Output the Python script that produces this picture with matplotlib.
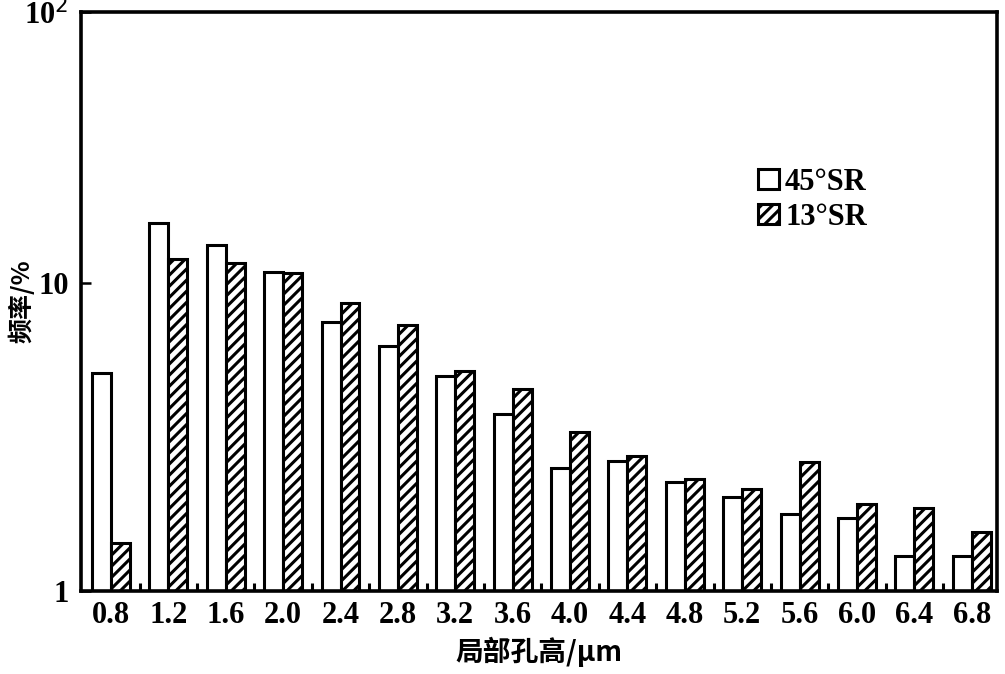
import matplotlib
matplotlib.use("Agg")
from matplotlib import pyplot as plt
import numpy as np

heights = ["0.8", "1.2", "1.6", "2.0", "2.4", "2.8", "3.2", "3.6",
           "4.0", "4.4", "4.8", "5.2", "5.6", "6.0", "6.4", "6.8"]
sr45 = [5.1, 15.7, 13.3, 10.9, 7.5, 6.25, 4.98, 3.76,
        2.51, 2.64, 2.26, 2.02, 1.78, 1.73, 1.30, 1.30]
sr13 = [1.43, 11.97, 11.6, 10.8, 8.6, 7.3, 5.18, 4.52,
        3.28, 2.74, 2.31, 2.14, 2.62, 1.92, 1.86, 1.55]
series_labels = ["45°SR", "13°SR"]

num_font = {"family": "Liberation Serif", "weight": "bold", "size": 22}
cjk_font = ["Noto Sans CJK SC", "DejaVu Sans"]

plt.rcParams["hatch.linewidth"] = 2.2

fig = plt.figure(figsize=(10.05, 6.74), dpi=100)
ax = fig.add_axes([0.0806, 0.123, 0.9114, 0.859])

x = np.arange(len(heights))
width = 0.33
ax.bar(x - width / 2, sr45, width, facecolor="white", edgecolor="black",
       linewidth=2.2, label=series_labels[0])
ax.bar(x + width / 2, sr13, width, facecolor="white", edgecolor="black",
       linewidth=2.2, hatch="///", label=series_labels[1])

ax.set_yscale("log")
y_top = 10 ** (579 / 308)
ax.set_ylim(1, y_top)
ax.set_xlim(-0.523, 15.44)

ax.set_yticks([1, 10, y_top])
ax.set_yticklabels(["1", "10", "10$^2$"], fontdict=num_font)
ax.yaxis.set_minor_locator(matplotlib.ticker.NullLocator())
ax.tick_params(axis="y", which="major", direction="in", length=7, width=1.8, pad=9)

ax.set_xticks(x)
ax.set_xticklabels(heights, fontdict=num_font)
ax.set_xticks(x[:-1] + 0.5, minor=True)
ax.tick_params(axis="x", which="major", length=0, pad=7)
ax.tick_params(axis="x", which="minor", direction="in", length=6, width=2.2)

for spine in ax.spines.values():
    spine.set_linewidth(2.6)

ax.set_xlabel("局部孔高/μm", family=cjk_font, fontsize=20, fontweight="bold", labelpad=5)
ax.set_ylabel("频率/%", family=cjk_font, fontsize=18, fontweight="bold")
ax.yaxis.set_label_coords(-0.051, 0.5)

ax.legend(loc="upper left", bbox_to_anchor=(0.722, 0.758), frameon=False,
          prop={"family": "Liberation Serif", "weight": "bold", "size": 22},
          handlelength=0.7, handleheight=0.65, handletextpad=0.2,
          labelspacing=0.2, borderpad=0)

fig.savefig("out.png", dpi=100)
